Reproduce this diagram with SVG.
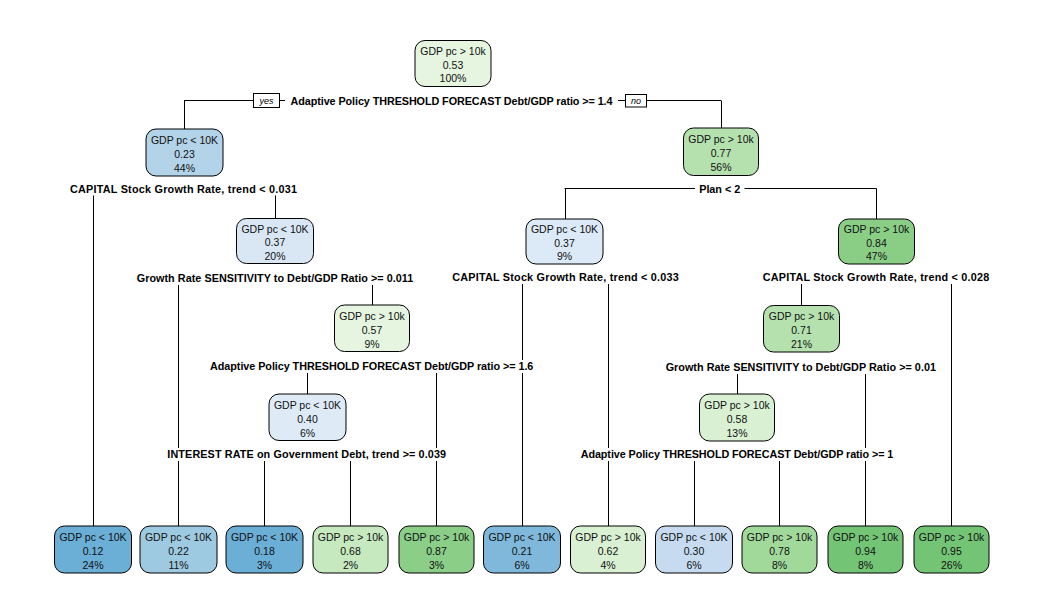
<svg xmlns="http://www.w3.org/2000/svg" width="1047" height="612" viewBox="0 0 1047 612">
<style>
.bg{fill:#ffffff}
.nd rect{stroke:#000;stroke-width:1}
.nd text{font-family:"Liberation Sans",Arial,sans-serif;font-size:10.5px;fill:#111;text-anchor:middle}
.cn line{stroke:#000;stroke-width:1;fill:none}
.lb rect{fill:#fff}
.lb text{font-family:"Liberation Sans",Arial,sans-serif;font-size:10.8px;font-weight:bold;fill:#000;text-anchor:middle}
.yn rect{fill:#fff;stroke:#000;stroke-width:1}
.yn text{font-family:"Liberation Sans",Arial,sans-serif;font-size:9px;font-style:italic;fill:#000;text-anchor:middle}
</style>
<rect class="bg" x="0" y="0" width="1047" height="612"/>
<g id="connectors" class="cn">
<line x1="184" y1="100.5" x2="721" y2="100.5"/>
<line x1="184.5" y1="100.5" x2="184.5" y2="129"/>
<line x1="721.5" y1="100.5" x2="721.5" y2="128"/>
<line x1="93" y1="189.5" x2="275.5" y2="189.5"/>
<line x1="93.5" y1="189.5" x2="93.5" y2="526"/>
<line x1="275.5" y1="189.5" x2="275.5" y2="218.5"/>
<line x1="564.5" y1="188.5" x2="876.5" y2="188.5"/>
<line x1="565.5" y1="188.5" x2="565.5" y2="219"/>
<line x1="876.5" y1="188.5" x2="876.5" y2="219"/>
<line x1="178.5" y1="278.5" x2="372.5" y2="278.5"/>
<line x1="178.5" y1="278.5" x2="178.5" y2="526"/>
<line x1="372.5" y1="278.5" x2="372.5" y2="305"/>
<line x1="522.5" y1="277.5" x2="608.5" y2="277.5"/>
<line x1="522.5" y1="277.5" x2="522.5" y2="526"/>
<line x1="608.5" y1="277.5" x2="608.5" y2="526"/>
<line x1="801.5" y1="277.5" x2="951.5" y2="277.5"/>
<line x1="801.5" y1="277.5" x2="801.5" y2="305.5"/>
<line x1="951.5" y1="277.5" x2="951.5" y2="526"/>
<line x1="307.5" y1="366.5" x2="436.5" y2="366.5"/>
<line x1="307.5" y1="366.5" x2="307.5" y2="394"/>
<line x1="436.5" y1="366.5" x2="436.5" y2="526"/>
<line x1="737.5" y1="367.5" x2="865.5" y2="367.5"/>
<line x1="737.5" y1="367.5" x2="737.5" y2="394"/>
<line x1="865.5" y1="367.5" x2="865.5" y2="526"/>
<line x1="264.5" y1="454.5" x2="350.5" y2="454.5"/>
<line x1="264.5" y1="454.5" x2="264.5" y2="526"/>
<line x1="350.5" y1="454.5" x2="350.5" y2="526"/>
<line x1="694.5" y1="454.5" x2="779.5" y2="454.5"/>
<line x1="694.5" y1="454.5" x2="694.5" y2="526"/>
<line x1="779.5" y1="454.5" x2="779.5" y2="526"/>
</g>
<g id="split-labels" class="lb">
<rect x="285" y="94" width="333" height="13"/>
<text x="451.5" y="104.5" textLength="322" lengthAdjust="spacing">Adaptive Policy THRESHOLD FORECAST Debt/GDP ratio &gt;= 1.4</text>
<rect x="65" y="182.5" width="237" height="13"/>
<text x="183.5" y="193" textLength="227" lengthAdjust="spacing">CAPITAL Stock Growth Rate, trend &lt; 0.031</text>
<rect x="695" y="182" width="49.5" height="13"/>
<text x="719.7" y="192.5" textLength="41" lengthAdjust="spacing">Plan &lt; 2</text>
<rect x="132" y="272" width="286" height="13"/>
<text x="275" y="282.3" textLength="276.6" lengthAdjust="spacing">Growth Rate SENSITIVITY to Debt/GDP Ratio &gt;= 0.011</text>
<rect x="447" y="271" width="237" height="13"/>
<text x="565.5" y="281" textLength="226.6" lengthAdjust="spacing">CAPITAL Stock Growth Rate, trend &lt; 0.033</text>
<rect x="757.5" y="271" width="237" height="13"/>
<text x="876" y="281" textLength="226.6" lengthAdjust="spacing">CAPITAL Stock Growth Rate, trend &lt; 0.028</text>
<rect x="205" y="360" width="333" height="13"/>
<text x="371.7" y="370" textLength="323.3" lengthAdjust="spacing">Adaptive Policy THRESHOLD FORECAST Debt/GDP ratio &gt;= 1.6</text>
<rect x="661" y="361" width="280" height="13"/>
<text x="800.8" y="371.3" textLength="270.3" lengthAdjust="spacing">Growth Rate SENSITIVITY to Debt/GDP Ratio &gt;= 0.01</text>
<rect x="162" y="448" width="289" height="13"/>
<text x="306.7" y="458" textLength="278.7" lengthAdjust="spacing">INTEREST RATE on Government Debt, trend &gt;= 0.039</text>
<rect x="576" y="448" width="322" height="13"/>
<text x="737" y="458" textLength="312.6" lengthAdjust="spacing">Adaptive Policy THRESHOLD FORECAST Debt/GDP ratio &gt;= 1</text>
</g>
<g id="yes-no" class="yn">
<rect x="253.5" y="93.5" width="26" height="14"/>
<text x="266.5" y="104">yes</text>
<rect x="625.5" y="94.5" width="21" height="12.5"/>
<text x="636" y="104">no</text>
</g>
<g id="n1" class="nd"><rect x="415" y="40.5" width="76" height="46" rx="10" fill="#E5F5E0"/><text x="453" y="55">GDP pc &gt; 10k</text><text x="453" y="68.5">0.53</text><text x="453" y="82">100%</text></g>
<g id="n2" class="nd"><rect x="146" y="129" width="77" height="47" rx="10" fill="#B3D3E8"/><text x="184.5" y="144">GDP pc &lt; 10K</text><text x="184.5" y="158">0.23</text><text x="184.5" y="172">44%</text></g>
<g id="n3" class="nd"><rect x="683.5" y="128" width="75" height="47.5" rx="10" fill="#B5E1AE"/><text x="721" y="143">GDP pc &gt; 10k</text><text x="721" y="157">0.77</text><text x="721" y="171">56%</text></g>
<g id="n4" class="nd"><rect x="236.5" y="218.5" width="77" height="45" rx="10" fill="#D9E7F5"/><text x="275" y="232.5">GDP pc &lt; 10K</text><text x="275" y="246">0.37</text><text x="275" y="259.5">20%</text></g>
<g id="n5" class="nd"><rect x="334.5" y="305" width="75" height="46.5" rx="10" fill="#E5F5E0"/><text x="372" y="320">GDP pc &gt; 10k</text><text x="372" y="333.5">0.57</text><text x="372" y="347.5">9%</text></g>
<g id="n6" class="nd"><rect x="269" y="394" width="77" height="46.5" rx="10" fill="#DEEBF7"/><text x="307.5" y="409">GDP pc &lt; 10K</text><text x="307.5" y="422.5">0.40</text><text x="307.5" y="436.5">6%</text></g>
<g id="n7" class="nd"><rect x="526" y="219" width="77" height="45" rx="10" fill="#DCE9F6"/><text x="564.5" y="233">GDP pc &lt; 10K</text><text x="564.5" y="246.5">0.37</text><text x="564.5" y="260">9%</text></g>
<g id="n8" class="nd"><rect x="838.5" y="219" width="76" height="45" rx="10" fill="#8ACE86"/><text x="876.5" y="233">GDP pc &gt; 10k</text><text x="876.5" y="246.5">0.84</text><text x="876.5" y="260">47%</text></g>
<g id="n9" class="nd"><rect x="763.5" y="305.5" width="76" height="46.5" rx="10" fill="#B5E1AE"/><text x="801.5" y="320">GDP pc &gt; 10k</text><text x="801.5" y="333.5">0.71</text><text x="801.5" y="347.5">21%</text></g>
<g id="n10" class="nd"><rect x="699.5" y="394" width="75" height="47" rx="10" fill="#D9F0D3"/><text x="737" y="409">GDP pc &gt; 10k</text><text x="737" y="422.5">0.58</text><text x="737" y="436.5">13%</text></g>
<g id="l1" class="nd"><rect x="54.5" y="526" width="77" height="47" rx="10" fill="#6BAED6"/><text x="93" y="541">GDP pc &lt; 10K</text><text x="93" y="555">0.12</text><text x="93" y="569">24%</text></g>
<g id="l2" class="nd"><rect x="140" y="526" width="77" height="47" rx="10" fill="#9ECAE1"/><text x="178.5" y="541">GDP pc &lt; 10K</text><text x="178.5" y="555">0.22</text><text x="178.5" y="569">11%</text></g>
<g id="l3" class="nd"><rect x="226" y="526" width="77" height="47" rx="10" fill="#6BAED6"/><text x="264.5" y="541">GDP pc &lt; 10K</text><text x="264.5" y="555">0.18</text><text x="264.5" y="569">3%</text></g>
<g id="l4" class="nd"><rect x="313" y="526" width="75" height="47" rx="10" fill="#C7E9C0"/><text x="350.5" y="541">GDP pc &gt; 10k</text><text x="350.5" y="555">0.68</text><text x="350.5" y="569">2%</text></g>
<g id="l5" class="nd"><rect x="399" y="526" width="75" height="47" rx="10" fill="#8ACE88"/><text x="436.5" y="541">GDP pc &gt; 10k</text><text x="436.5" y="555">0.87</text><text x="436.5" y="569">3%</text></g>
<g id="l6" class="nd"><rect x="483.5" y="526" width="77" height="47" rx="10" fill="#7FB8DB"/><text x="522" y="541">GDP pc &lt; 10K</text><text x="522" y="555">0.21</text><text x="522" y="569">6%</text></g>
<g id="l7" class="nd"><rect x="570.5" y="526" width="75" height="47" rx="10" fill="#D9F0D3"/><text x="608" y="541">GDP pc &gt; 10k</text><text x="608" y="555">0.62</text><text x="608" y="569">4%</text></g>
<g id="l8" class="nd"><rect x="655.5" y="526" width="77" height="47" rx="10" fill="#C6DBEF"/><text x="694" y="541">GDP pc &lt; 10K</text><text x="694" y="555">0.30</text><text x="694" y="569">6%</text></g>
<g id="l9" class="nd"><rect x="742" y="526" width="75" height="47" rx="10" fill="#A1D99B"/><text x="779.5" y="541">GDP pc &gt; 10k</text><text x="779.5" y="555">0.78</text><text x="779.5" y="569">8%</text></g>
<g id="l10" class="nd"><rect x="828" y="526" width="75" height="47" rx="10" fill="#74C476"/><text x="865.5" y="541">GDP pc &gt; 10k</text><text x="865.5" y="555">0.94</text><text x="865.5" y="569">8%</text></g>
<g id="l11" class="nd"><rect x="914" y="526" width="75" height="47" rx="10" fill="#74C476"/><text x="951.5" y="541">GDP pc &gt; 10k</text><text x="951.5" y="555">0.95</text><text x="951.5" y="569">26%</text></g>
</svg>
